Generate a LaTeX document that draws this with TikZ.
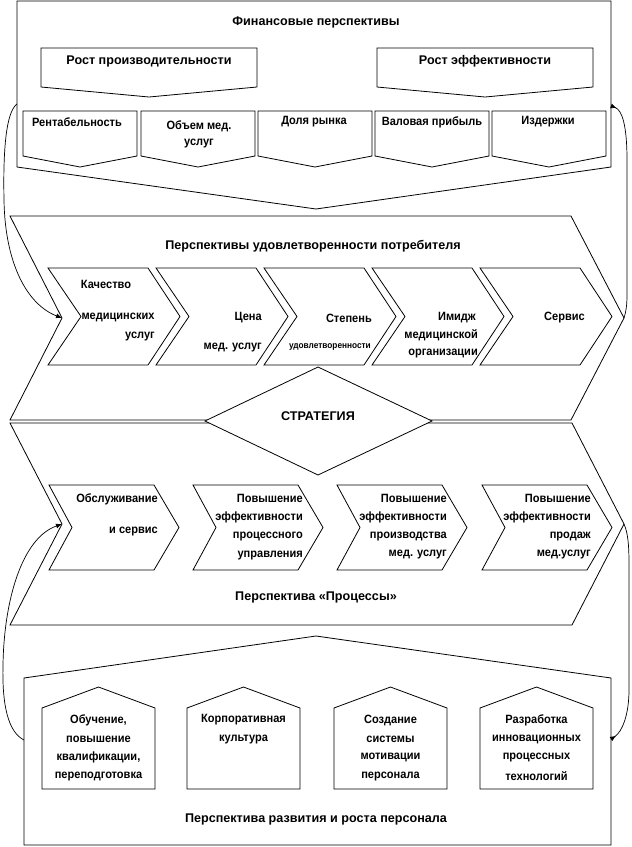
\documentclass[tikz,border=0pt]{standalone}
\usepackage{fontspec}
\newfontfamily\rf{Liberation Sans}
\newfontfamily\rfn{Liberation Sans}[FakeStretch=0.92]
\usetikzlibrary{arrows.meta}
\newcommand\lf{\rf\bfseries\fontsize{12.6}{14}\selectfont}
\newcommand\lfin{\rfn\bfseries\fontsize{12}{14}\selectfont}
\newcommand\lfsmall{\rfn\bfseries\fontsize{9}{10}\selectfont}
\tikzset{
  shp/.style={draw, line width=0.8pt, fill=white, line join=miter},
  conn/.style={draw, line width=0.7pt},
  t/.style={font=\lf, inner sep=0pt},
  ti/.style={font=\lfin, inner sep=0pt},
  tr/.style={font=\lfin, inner sep=0pt, anchor=east},
  ts/.style={font=\lfsmall, inner sep=0pt, anchor=east},
  ltip/.tip={Latex[length=6pt,width=5pt]},
  rltip/.tip={Latex[length=6pt,width=5pt,reversed]}
}
\newcommand\finbox[2]{% left, right
  \draw[shp] (#1,111) -- (#2,111) -- (#2,156) -- ({(#1+#2)/2},167) -- (#1,156) -- cycle;}
\newcommand\custchev[1]{%
  \draw[shp] (#1,268) -- ({#1+100},268) -- ({#1+132},316.5) -- ({#1+100},365) -- (#1,365) -- ({#1+33},316.5) -- cycle;}
\newcommand\procchev[1]{%
  \draw[shp] (#1,485) -- ({#1+105},485) -- ({#1+130},527.5) -- ({#1+105},570) -- (#1,570) -- ({#1+23},527.5) -- cycle;}
\newcommand\house[1]{%
  \draw[shp] (#1,708) -- ({#1+56.5},687) -- ({#1+113},708) -- ({#1+113},789) -- (#1,789) -- cycle;}
\begin{document}
\begin{tikzpicture}[x=1pt,y=-1pt]
\useasboundingbox (0,0) rectangle (632,847);
\fill[white] (0,0) rectangle (632,847);

% ---------- Financial perspective ----------
\draw[shp] (17,1) -- (611,1) -- (611,167) -- (316,209) -- (17,167) -- cycle;
\node[t] (fintitle) at (316,22) {Финансовые перспективы};
\draw[shp] (41,48) -- (257,48) -- (257,87) -- (149,97) -- (41,87) -- cycle;
\draw[shp] (377,48) -- (593,48) -- (593,87) -- (485,97) -- (377,87) -- cycle;
\node[t] (rost1) at (149,61) {Рост производительности};
\node[t] (rost2) at (485,61) {Рост эффективности};
\finbox{23}{137}
\finbox{141}{255}
\finbox{258}{372}
\finbox{375}{489}
\finbox{492}{606}
\node[ti] (rent) at (77,122) {Рентабельность};
\node[ti] (obem1) at (199,126) {Объем мед.};
\node[ti] (obem2) at (199,144) {услуг};
\node[ti] (dolya) at (314,122) {Доля рынка};
\node[ti] (valov) at (432,122) {Валовая прибыль};
\node[ti] (izd) at (548,122) {Издержки};

% ---------- Customer perspective ----------
\draw[shp] (10,216) -- (571,216) -- (624,318) -- (571,420) -- (10,420) -- (62,318) -- cycle;
\node[t] (custtitle) at (313,246) {Перспективы удовлетворенности потребителя};
\custchev{48}
\custchev{156}
\custchev{264}
\custchev{372}
\custchev{480}
\node[ti] (k1) at (106,284) {Качество};
\node[ti] (k2) at (118,317) {медицинских};
\node[ti] (k3) at (140,337) {услуг};
\node[tr] (c1) at (262,318) {Цена};
\node[tr] (c2) at (262,348) {мед. услуг};
\node[tr] (s1) at (372,318) {Степень};
\node[ts] (s2) at (371,347) {удовлетворенности};
\node[tr] (i1) at (476,318) {Имидж};
\node[tr] (i2) at (478,335) {медицинской};
\node[tr] (i3) at (478,354) {организации};
\node[tr] (serv) at (585,318) {Сервис};

% ---------- Process perspective ----------
\draw[shp] (10,423) -- (572,423) -- (624,524) -- (572,625) -- (10,625) -- (62,524) -- cycle;
\procchev{49}
\procchev{193}
\procchev{337}
\procchev{482}
\node[tr] (o1) at (158,499) {Обслуживание};
\node[tr] (o2) at (158,531) {и сервис};
\node[tr] (p21) at (303,498) {Повышение};
\node[tr] (p22) at (303,517) {эффективности};
\node[tr] (p23) at (303,536) {процессного};
\node[tr] (p24) at (303,555) {управления};
\node[tr] (p31) at (447,498) {Повышение};
\node[tr] (p32) at (447,517) {эффективности};
\node[tr] (p33) at (447,536) {производства};
\node[tr] (p34) at (447,555) {мед. услуг};
\node[tr] (p41) at (591,498) {Повышение};
\node[tr] (p42) at (591,517) {эффективности};
\node[tr] (p43) at (591,536) {продаж};
\node[tr] (p44) at (591,555) {мед.услуг};
\node[t] (proctitle) at (316,597) {Перспектива «Процессы»};

% ---------- Strategy ----------
\draw[shp] (205,421) -- (318,367) -- (432,421) -- (318,475) -- cycle;
\node[t] (strat) at (318,416) {СТРАТЕГИЯ};

% ---------- Personnel perspective ----------
\draw[shp] (24,678) -- (316,636) -- (611,678) -- (611,845) -- (24,845) -- cycle;
\house{42}
\house{187}
\house{334}
\house{480}
\node[ti] (h11) at (98.5,720) {Обучение,};
\node[ti] (h12) at (98.5,739) {повышение};
\node[ti] (h13) at (98.5,757) {квалификации,};
\node[ti] (h14) at (98.5,776) {переподготовка};
\node[ti] (h21) at (243.5,720) {Корпоративная};
\node[ti] (h22) at (243.5,739) {культура};
\node[ti] (h31) at (390.5,720) {Создание};
\node[ti] (h32) at (390.5,739) {системы};
\node[ti] (h33) at (390.5,757) {мотивации};
\node[ti] (h34) at (390.5,776) {персонала};
\node[ti] (h41) at (536.5,720) {Разработка};
\node[ti] (h42) at (536.5,739) {инновационных};
\node[ti] (h43) at (536.5,757) {процессных};
\node[ti] (h44) at (536.5,776) {технологий};
\node[t] (perstitle) at (316,819) {Перспектива развития и роста персонала};

% ---------- Connectors ----------
\coordinate (finL) at (17,104);
\coordinate (custN) at (62,318);
\coordinate (finR) at (611,106);
\coordinate (custT) at (624,318);
\coordinate (persL) at (24,740);
\coordinate (procN) at (62,524);
\coordinate (procT) at (624,524);
\coordinate (persR) at (611,739);
\draw[conn, -{ltip}] (finL) .. controls (6,112) and (3,150) .. (4,200) .. controls (5,265) and (28,305) .. (custN);
\draw[conn, {rltip}-] (finR) .. controls (622,110) and (627,125) .. (627,160) -- (627,295) .. controls (627,305) and (626,312) .. (custT);
\draw[conn, -{ltip}] (persL) .. controls (8,732) and (2,705) .. (3,665) .. controls (4,600) and (22,538) .. (procN);
\draw[conn, -{rltip}] (procT) .. controls (628,533) and (629,545) .. (629,565) -- (629,690) .. controls (629,715) and (622,732) .. (persR);
\end{tikzpicture}
\end{document}
